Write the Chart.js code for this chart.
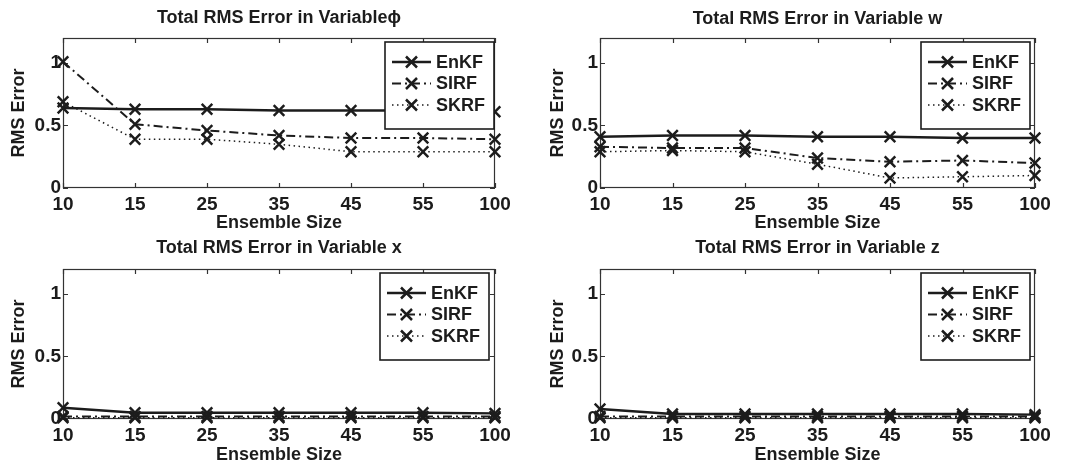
<!DOCTYPE html>
<html>
<head>
<meta charset="utf-8">
<script src="https://cdn.jsdelivr.net/npm/chart.js@4"></script>
<style>
html, body { margin: 0; padding: 0; background: #fff; }
body { width: 1066px; height: 465px; position: relative; overflow: hidden; }
canvas { position: absolute; }
</style>
</head>
<body>
<canvas id="phi" width="530" height="232" style="left:0;top:0"></canvas>
<canvas id="w" width="536" height="232" style="left:530px;top:0"></canvas>
<canvas id="x" width="530" height="232" style="left:0;top:233px"></canvas>
<canvas id="z" width="536" height="232" style="left:530px;top:233px"></canvas>
<script>
const ensembleSizes = ['10', '15', '25', '35', '45', '55', '100'];
const seriesNames = ['EnKF', 'SIRF', 'SKRF'];
const yTicks = [0, 0.5, 1];

const phiEnKF = [0.64, 0.63, 0.63, 0.62, 0.62, 0.62, 0.61];
const phiSIRF = [1.01, 0.51, 0.46, 0.42, 0.40, 0.40, 0.39];
const phiSKRF = [0.69, 0.39, 0.39, 0.35, 0.29, 0.29, 0.29];

const wEnKF = [0.41, 0.42, 0.42, 0.41, 0.41, 0.40, 0.40];
const wSIRF = [0.33, 0.32, 0.32, 0.24, 0.21, 0.22, 0.20];
const wSKRF = [0.29, 0.30, 0.29, 0.19, 0.08, 0.09, 0.10];

const xEnKF = [0.09, 0.05, 0.05, 0.05, 0.05, 0.05, 0.045];
const xSIRF = [0.02, 0.02, 0.02, 0.02, 0.02, 0.02, 0.02];
const xSKRF = [0.01, 0.01, 0.01, 0.01, 0.01, 0.01, 0.01];

const zEnKF = [0.08, 0.04, 0.04, 0.04, 0.04, 0.04, 0.035];
const zSIRF = [0.02, 0.02, 0.02, 0.02, 0.02, 0.02, 0.02];
const zSKRF = [0.01, 0.01, 0.01, 0.01, 0.01, 0.01, 0.01];

const ink = '#1c1c1c';
const fontFamily = '"Liberation Sans", Arial, sans-serif';
const lineStyles = [
    { dash: [], width: 2.5 },
    { dash: [9, 4, 2, 4], width: 2 },
    { dash: [1.5, 3.5], width: 1.5 }
];

// box with inward tick marks, matlab style
const framePlugin = {
    id: 'frame',
    beforeDatasetsDraw(chart) {
        const { ctx, chartArea: a, scales: { x, y } } = chart;
        ctx.save();
        ctx.strokeStyle = '#333';
        ctx.lineWidth = 1.2;
        ctx.strokeRect(a.left + 0.5, a.top + 0.5, a.right - a.left - 1, a.bottom - a.top - 1);
        ctx.beginPath();
        x.ticks.forEach((t, i) => {
            const px = Math.round(x.getPixelForTick(i)) + 0.5;
            ctx.moveTo(px, a.bottom); ctx.lineTo(px, a.bottom - 5);
            ctx.moveTo(px, a.top); ctx.lineTo(px, a.top + 5);
        });
        y.ticks.forEach(t => {
            const py = Math.round(y.getPixelForValue(t.value)) + 0.5;
            ctx.moveTo(a.left, py); ctx.lineTo(a.left + 5, py);
            ctx.moveTo(a.right, py); ctx.lineTo(a.right - 5, py);
        });
        ctx.stroke();
        ctx.restore();
    }
};

const boxLegendPlugin = {
    id: 'boxLegend',
    afterDatasetsDraw(chart, args, opts) {
        const { ctx, chartArea: a } = chart;
        const boxW = 109, boxH = 87;
        const bx = a.right - opts.inset - boxW, by = a.top + 4;
        ctx.save();
        ctx.fillStyle = '#fff';
        ctx.fillRect(bx, by, boxW, boxH);
        ctx.strokeStyle = ink;
        ctx.lineWidth = 1.6;
        ctx.strokeRect(bx, by, boxW, boxH);
        ctx.font = 'bold 18px ' + fontFamily;
        ctx.textBaseline = 'middle';
        ctx.fillStyle = ink;
        chart.data.datasets.forEach((ds, i) => {
            const cy = by + 20 + i * 21.5;
            ctx.setLineDash(ds.borderDash);
            ctx.lineWidth = ds.borderWidth;
            ctx.beginPath();
            ctx.moveTo(bx + 7, cy); ctx.lineTo(bx + 46, cy);
            ctx.stroke();
            ctx.setLineDash([]);
            ctx.lineWidth = 2.5;
            ctx.beginPath();
            const mx = bx + 26.5, h = 5.5;
            ctx.moveTo(mx - h, cy - h); ctx.lineTo(mx + h, cy + h);
            ctx.moveTo(mx - h, cy + h); ctx.lineTo(mx + h, cy - h);
            ctx.stroke();
            ctx.fillText(ds.label, bx + 51, cy + 1);
        });
        ctx.restore();
    }
};

const plotTitlePlugin = {
    id: 'plotTitle',
    afterDraw(chart, args, opts) {
        const { ctx, chartArea: a } = chart;
        ctx.save();
        ctx.font = 'bold 18px ' + fontFamily;
        ctx.fillStyle = ink;
        ctx.textAlign = 'center';
        ctx.textBaseline = 'middle';
        ctx.fillText(opts.text, (a.left + a.right) / 2, opts.y);
        ctx.restore();
    }
};

function makeChart(id, title, series, box) {
    new Chart(document.getElementById(id), {
        type: 'line',
        data: {
            labels: ensembleSizes,
            datasets: series.map((vals, i) => ({
                label: seriesNames[i],
                data: vals,
                borderColor: ink,
                borderWidth: lineStyles[i].width,
                borderDash: lineStyles[i].dash,
                pointStyle: 'crossRot',
                pointRadius: 7.5,
                pointHoverRadius: 7.5,
                pointBorderWidth: 2.5,
                pointBorderColor: ink,
                pointBackgroundColor: ink,
                fill: false,
                tension: 0,
                clip: false
            }))
        },
        options: {
            responsive: false,
            animation: false,
            events: [],
            layout: { padding: { left: 0, right: box.padRight, top: box.padTop, bottom: 0 } },
            scales: {
                x: {
                    type: 'category',
                    offset: false,
                    grid: { display: false, drawTicks: false },
                    border: { display: false },
                    ticks: { color: ink, font: { family: fontFamily, size: 19, weight: 'bold' }, padding: 5, maxRotation: 0, autoSkip: false },
                    title: { display: true, text: 'Ensemble Size', color: ink, font: { family: fontFamily, size: 18, weight: 'bold', lineHeight: 1 }, padding: { top: 0, bottom: box.xTitlePad } },
                    afterFit: s => { s.height = box.xHeight; }
                },
                y: {
                    min: 0,
                    max: 1.2,
                    grid: { display: false, drawTicks: false },
                    border: { display: false },
                    afterBuildTicks: s => { s.ticks = yTicks.map(v => ({ value: v })); },
                    ticks: { color: ink, font: { family: fontFamily, size: 19, weight: 'bold' }, padding: 2, callback: v => String(v) },
                    title: { display: true, text: 'RMS Error', color: ink, font: { family: fontFamily, size: 18, weight: 'bold', lineHeight: 1 }, padding: { top: box.yTitlePad, bottom: 0 } },
                    afterFit: s => { s.width = box.yWidth; }
                }
            },
            plugins: {
                legend: { display: false },
                tooltip: { enabled: false },
                plotTitle: { text: title, y: box.titleY },
                boxLegend: { inset: box.legendInset }
            }
        },
        plugins: [framePlugin, boxLegendPlugin, plotTitlePlugin]
    });
}

makeChart('phi', 'Total RMS Error in Variable\u03d5', [phiEnKF, phiSIRF, phiSKRF],
    { padTop: 38, padRight: 35, yWidth: 63, xHeight: 44, yTitlePad: 10, xTitlePad: 0, titleY: 18, legendInset: 1 });
makeChart('w', 'Total RMS Error in Variable w', [wEnKF, wSIRF, wSKRF],
    { padTop: 38, padRight: 31, yWidth: 70, xHeight: 44, yTitlePad: 19, xTitlePad: 0, titleY: 19, legendInset: 5 });
makeChart('x', 'Total RMS Error in Variable x', [xEnKF, xSIRF, xSKRF],
    { padTop: 36, padRight: 35, yWidth: 63, xHeight: 46, yTitlePad: 10, xTitlePad: 1, titleY: 15, legendInset: 6 });
makeChart('z', 'Total RMS Error in Variable z', [zEnKF, zSIRF, zSKRF],
    { padTop: 36, padRight: 31, yWidth: 70, xHeight: 46, yTitlePad: 19, xTitlePad: 1, titleY: 15, legendInset: 5 });
</script>
</body>
</html>
